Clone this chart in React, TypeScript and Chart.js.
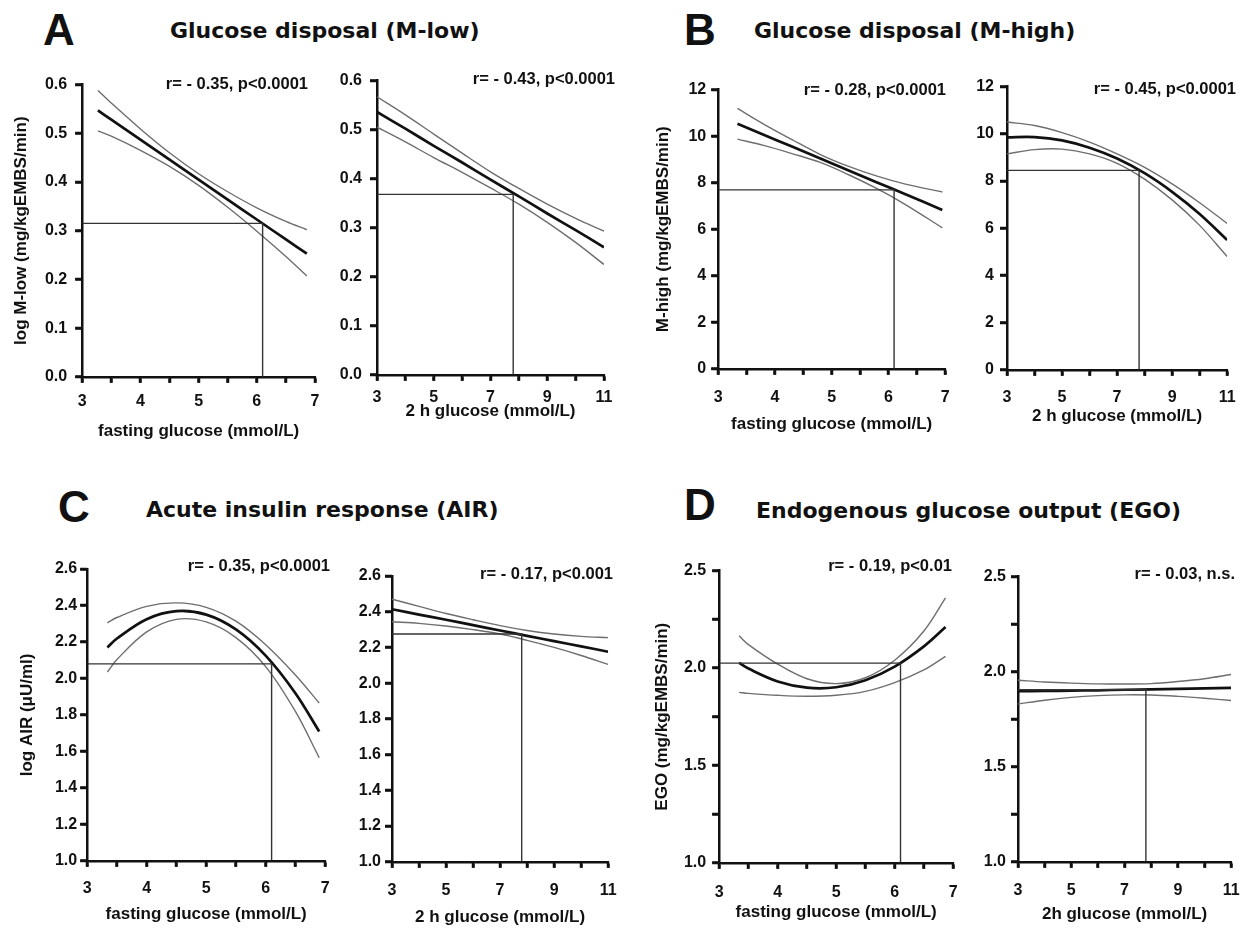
import React, { useEffect, useRef } from "react";
import { Chart, registerables } from "chart.js";

Chart.register(...registerables);

// ---------------- DATA ----------------
// A (left): log M-low vs fasting glucose
const mLowFastX = [3.27, 3.5, 4.0, 4.5, 5.0, 5.5, 6.0, 6.5, 6.86];
const mLowFastFit = [0.547, 0.528, 0.487, 0.446, 0.405, 0.364, 0.323, 0.282, 0.253];
const mLowFastUpper = [0.588, 0.562, 0.509, 0.46, 0.417, 0.38, 0.347, 0.319, 0.302];
const mLowFastLower = [0.505, 0.494, 0.465, 0.432, 0.393, 0.348, 0.299, 0.247, 0.207];
const mLowFastCut = [6.1, 0.315];

// A (right): log M-low vs 2 h glucose
const mLow2hX = [3, 4, 5, 6, 7, 8, 9, 10, 11];
const mLow2hFit = [0.536, 0.502, 0.467, 0.433, 0.398, 0.364, 0.329, 0.295, 0.26];
const mLow2hUpper = [0.567, 0.53, 0.491, 0.452, 0.414, 0.38, 0.348, 0.319, 0.293];
const mLow2hLower = [0.505, 0.475, 0.443, 0.413, 0.381, 0.348, 0.311, 0.27, 0.225];
const mLow2hCut = [7.8, 0.368];

// B (left): M-high vs fasting glucose
const mHighFastX = [3.34, 3.8, 4.3, 4.8, 5.3, 5.8, 6.3, 6.95];
const mHighFastFit = [10.53, 10.06, 9.55, 9.04, 8.52, 8.01, 7.5, 6.83];
const mHighFastUpper = [11.19, 10.52, 9.85, 9.21, 8.7, 8.28, 7.94, 7.6];
const mHighFastLower = [9.87, 9.6, 9.25, 8.87, 8.34, 7.74, 7.06, 6.06];
const mHighFastCut = [6.1, 7.69];

// B (right): M-high vs 2 h glucose
const mHigh2hX = [3, 4, 5, 6, 7, 8, 9, 10, 11];
const mHigh2hFit = [9.85, 9.86, 9.72, 9.41, 8.95, 8.33, 7.54, 6.6, 5.5];
const mHigh2hUpper = [10.5, 10.35, 10.05, 9.65, 9.15, 8.58, 7.88, 7.08, 6.2];
const mHigh2hLower = [9.15, 9.33, 9.35, 9.15, 8.75, 8.08, 7.2, 6.12, 4.8];
const mHigh2hCut = [7.8, 8.45];

// C (left): log AIR vs fasting glucose
const airFastX = [3.34, 3.5, 4.0, 4.5, 5.0, 5.5, 6.0, 6.5, 6.9];
const airFastFit = [2.17, 2.219, 2.325, 2.369, 2.35, 2.269, 2.125, 1.919, 1.709];
const airFastUpper = [2.305, 2.334, 2.395, 2.414, 2.39, 2.314, 2.185, 2.019, 1.865];
const airFastLower = [2.035, 2.104, 2.255, 2.324, 2.31, 2.224, 2.065, 1.819, 1.565];
const airFastCut = [6.1, 2.08];

// C (right): log AIR vs 2 h glucose
const air2hX = [3, 4, 5, 6, 7, 8, 9, 10, 11];
const air2hFit = [2.414, 2.384, 2.355, 2.325, 2.295, 2.265, 2.235, 2.206, 2.176];
const air2hUpper = [2.47, 2.43, 2.39, 2.355, 2.322, 2.295, 2.275, 2.262, 2.255];
const air2hLower = [2.344, 2.335, 2.32, 2.3, 2.275, 2.24, 2.2, 2.155, 2.105];
const air2hCut = [7.8, 2.275];

// D (left): EGO vs fasting glucose
const egoFastX = [3.34, 3.5, 4.0, 4.5, 5.0, 5.5, 6.0, 6.5, 6.87];
const egoFastFit = [2.026, 1.997, 1.931, 1.899, 1.901, 1.937, 2.007, 2.111, 2.21];
const egoFastUpper = [2.165, 2.12, 2.02, 1.945, 1.92, 1.95, 2.04, 2.19, 2.36];
const egoFastLower = [1.875, 1.87, 1.86, 1.855, 1.86, 1.88, 1.925, 1.99, 2.06];
const egoFastCut = [6.1, 2.025];

// D (right): EGO vs 2h glucose
const ego2hX = [3, 4, 5, 6, 7, 8, 9, 10, 11];
const ego2hFit = [1.897, 1.899, 1.9, 1.902, 1.905, 1.907, 1.91, 1.912, 1.915];
const ego2hUpper = [1.955, 1.946, 1.94, 1.936, 1.935, 1.937, 1.948, 1.963, 1.985];
const ego2hLower = [1.83, 1.85, 1.865, 1.874, 1.878, 1.877, 1.87, 1.86, 1.848];
const ego2hCut = [7.8, 1.905];

// Labels
const panelLetters = ["A", "B", "C", "D"];
const panelTitles = [
  "Glucose disposal (M-low)",
  "Glucose disposal (M-high)",
  "Acute insulin response (AIR)",
  "Endogenous glucose output (EGO)",
];
const statLabels = [
  "r= - 0.35, p<0.0001",
  "r= - 0.43, p<0.0001",
  "r= - 0.28, p<0.0001",
  "r= - 0.45, p<0.0001",
  "r= - 0.35, p<0.0001",
  "r= - 0.17, p<0.001",
  "r= - 0.19, p<0.01",
  "r= - 0.03, n.s.",
];
const xAxisTitles = [
  "fasting glucose (mmol/L)",
  "2 h glucose (mmol/L)",
  "fasting glucose (mmol/L)",
  "2 h glucose (mmol/L)",
  "fasting glucose (mmol/L)",
  "2 h glucose (mmol/L)",
  "fasting glucose (mmol/L)",
  "2h glucose (mmol/L)",
];
const yAxisTitles = [
  "log M-low (mg/kgEMBS/min)",
  "",
  "M-high (mg/kgEMBS/min)",
  "",
  "log AIR (\u03bcU/ml)",
  "",
  "EGO (mg/kgEMBS/min)",
  "",
];

// ---------------- STYLE / LAYOUT ----------------
const SANS = '"Liberation Sans", Arial, Helvetica, sans-serif';
const WIDE = '"DejaVu Sans", "Liberation Sans", sans-serif';
const TICK_FS = 16;
const AXT_FS = 17;
const TL_X = 6;
const TL_Y = 7;
const INK = "#111";

type Layout = {
  plot: number[]; // l, t, r, b
  yTitleX?: number;
  xTitleY: number;
  xLabelY: number;
  yGap: number;
};

type Series = {
  xs: number[];
  fit: number[];
  upper: number[];
  lower: number[];
  cut: number[];
  xMin: number;
  xMax: number;
  xStep: number;
  xMode: "int" | "odd";
  yMin: number;
  yMax: number;
  yStep: number;
  yMode: "f1" | "int" | "half";
};

const series: Series[] = [
  { xs: mLowFastX, fit: mLowFastFit, upper: mLowFastUpper, lower: mLowFastLower, cut: mLowFastCut, xMin: 3, xMax: 7, xStep: 0.5, xMode: "int", yMin: 0, yMax: 0.6, yStep: 0.1, yMode: "f1" },
  { xs: mLow2hX, fit: mLow2hFit, upper: mLow2hUpper, lower: mLow2hLower, cut: mLow2hCut, xMin: 3, xMax: 11, xStep: 1, xMode: "odd", yMin: 0, yMax: 0.6, yStep: 0.1, yMode: "f1" },
  { xs: mHighFastX, fit: mHighFastFit, upper: mHighFastUpper, lower: mHighFastLower, cut: mHighFastCut, xMin: 3, xMax: 7, xStep: 0.5, xMode: "int", yMin: 0, yMax: 12, yStep: 2, yMode: "int" },
  { xs: mHigh2hX, fit: mHigh2hFit, upper: mHigh2hUpper, lower: mHigh2hLower, cut: mHigh2hCut, xMin: 3, xMax: 11, xStep: 1, xMode: "odd", yMin: 0, yMax: 12, yStep: 2, yMode: "int" },
  { xs: airFastX, fit: airFastFit, upper: airFastUpper, lower: airFastLower, cut: airFastCut, xMin: 3, xMax: 7, xStep: 0.5, xMode: "int", yMin: 1, yMax: 2.6, yStep: 0.2, yMode: "f1" },
  { xs: air2hX, fit: air2hFit, upper: air2hUpper, lower: air2hLower, cut: air2hCut, xMin: 3, xMax: 11, xStep: 1, xMode: "odd", yMin: 1, yMax: 2.6, yStep: 0.2, yMode: "f1" },
  { xs: egoFastX, fit: egoFastFit, upper: egoFastUpper, lower: egoFastLower, cut: egoFastCut, xMin: 3, xMax: 7, xStep: 0.5, xMode: "int", yMin: 1, yMax: 2.5, yStep: 0.25, yMode: "half" },
  { xs: ego2hX, fit: ego2hFit, upper: ego2hUpper, lower: ego2hLower, cut: ego2hCut, xMin: 3, xMax: 11, xStep: 1, xMode: "odd", yMin: 1, yMax: 2.5, yStep: 0.25, yMode: "half" },
];

const layouts: Layout[] = [
  { plot: [82, 81, 315, 377], yTitleX: 21, xTitleY: 432, xLabelY: 402, yGap: 15 },
  { plot: [377, 77, 604, 375], xTitleY: 412, xLabelY: 398, yGap: 15 },
  { plot: [718, 89, 947, 369], yTitleX: 663, xTitleY: 425, xLabelY: 398, yGap: 12 },
  { plot: [1007, 85, 1232, 370], xTitleY: 417, xLabelY: 398, yGap: 13 },
  { plot: [87, 569, 326, 861], yTitleX: 27, xTitleY: 915, xLabelY: 889, yGap: 10 },
  { plot: [392, 576, 614, 862], xTitleY: 918, xLabelY: 891, yGap: 11 },
  { plot: [719, 569, 956, 863], yTitleX: 662, xTitleY: 913, xLabelY: 893, yGap: 13 },
  { plot: [1018, 576, 1237, 862], xTitleY: 915, xLabelY: 891, yGap: 12 },
];

const letterPos = [
  [43, 30],
  [684, 30],
  [58, 507],
  [684, 505],
];
const titlePos = [
  [170, 31],
  [754, 31],
  [146, 510],
  [756, 511],
];
const statPos = [
  [308, 83],
  [615, 78],
  [946, 89],
  [1236, 88],
  [330, 565],
  [613, 573],
  [952, 565],
  [1235, 573],
];

function fmtY(mode: string, v: number): string {
  if (mode === "int") return String(Math.round(v));
  if (mode === "half") {
    const d = v * 2 - Math.round(v * 2);
    return Math.abs(d) < 1e-6 ? v.toFixed(1) : "";
  }
  return v.toFixed(1);
}
function fmtX(mode: string, v: number): string {
  const r = Math.round(v);
  if (Math.abs(v - r) > 1e-6) return "";
  if (mode === "odd") return r % 2 === 1 ? String(r) : "";
  return String(r);
}

// draws outward tick marks for every scale tick (major and minor)
const outerTicks = {
  id: "outerTicks",
  afterDraw(chart: any) {
    const ctx = chart.ctx;
    const xs = chart.scales.x;
    const ys = chart.scales.y;
    ctx.save();
    ctx.strokeStyle = INK;
    ctx.lineWidth = 2.5;
    ctx.lineCap = "butt";
    ctx.beginPath();
    xs.ticks.forEach((t: any) => {
      const px = Math.round(xs.getPixelForValue(t.value));
      ctx.moveTo(px, xs.top);
      ctx.lineTo(px, xs.top + TL_X);
    });
    ys.ticks.forEach((t: any) => {
      const py = Math.round(ys.getPixelForValue(t.value));
      ctx.moveTo(ys.right, py);
      ctx.lineTo(ys.right - TL_Y, py);
    });
    ctx.stroke();
    ctx.restore();
  },
};

function Panel({ s, lay, xTitle, yTitle }: { s: Series; lay: Layout; xTitle: string; yTitle: string }) {
  const ref = useRef<HTMLCanvasElement | null>(null);
  const [l, t, r, b] = lay.plot;
  const axLH = AXT_FS * 1.2;
  const tickLH = TICK_FS * 1.2;
  const CL = lay.yTitleX !== undefined ? lay.yTitleX - axLH / 2 : l - 50;
  const yW = l - CL;
  const padTop = 14;
  const CT = t - padTop;
  const padRight = 16;
  const CW = r + padRight - CL;
  const xH = lay.xTitleY + axLH / 2 - b;
  const padBottom = 4;
  const CH = b + xH + padBottom - CT;
  const xPad = lay.xLabelY - b - TL_X - tickLH / 2;
  const yPad = lay.yGap - TL_Y;

  useEffect(() => {
    if (!ref.current) return;
    const pts = (xs: number[], ys: number[]) => xs.map((x, i) => ({ x, y: ys[i] }));
    const tickFont = { family: SANS, size: TICK_FS, weight: "bold" as const };
    const titleFont = { family: SANS, size: AXT_FS, weight: "bold" as const };
    const curve = (data: any, color: string, width: number) => ({
      data,
      borderColor: color,
      borderWidth: width,
      showLine: true,
      pointRadius: 0,
      tension: 0.35,
    });
    const chart = new Chart(ref.current, {
      type: "scatter",
      data: {
        datasets: [
          {
            data: [
              { x: s.xMin, y: s.cut[1] },
              { x: s.cut[0], y: s.cut[1] },
              { x: s.cut[0], y: s.yMin },
            ],
            borderColor: "#333",
            borderWidth: 1.4,
            showLine: true,
            pointRadius: 0,
            tension: 0,
          },
          curve(pts(s.xs, s.upper), "#6e6e6e", 1.4),
          curve(pts(s.xs, s.lower), "#6e6e6e", 1.4),
          curve(pts(s.xs, s.fit), INK, 2.7),
        ],
      },
      plugins: [outerTicks],
      options: {
        animation: false,
        responsive: false,
        devicePixelRatio: 1,
        events: [],
        layout: { padding: { left: 0, top: padTop, right: padRight, bottom: padBottom } },
        plugins: {
          legend: { display: false },
          tooltip: { enabled: false },
          title: { display: false },
        },
        scales: {
          x: {
            type: "linear",
            position: "bottom",
            min: s.xMin,
            max: s.xMax,
            ticks: {
              stepSize: s.xStep,
              autoSkip: false,
              maxRotation: 0,
              minRotation: 0,
              padding: xPad,
              color: INK,
              font: tickFont,
              callback: (v: any) => fmtX(s.xMode, Number(v)),
            },
            grid: {
              display: true,
              drawOnChartArea: false,
              drawTicks: true,
              tickLength: TL_X,
              tickWidth: 2.5,
              tickColor: INK,
            },
            border: { display: true, color: INK, width: 2.5 },
            title: { display: true, text: xTitle, color: INK, font: titleFont, padding: 0 },
            afterFit: (scale: any) => {
              scale.height = xH;
            },
          },
          y: {
            type: "linear",
            position: "left",
            min: s.yMin,
            max: s.yMax,
            ticks: {
              stepSize: s.yStep,
              autoSkip: false,
              padding: yPad,
              color: INK,
              font: tickFont,
              callback: (v: any) => fmtY(s.yMode, Number(v)),
            },
            grid: {
              display: true,
              drawOnChartArea: false,
              drawTicks: true,
              tickLength: TL_Y,
              tickWidth: 2.5,
              tickColor: INK,
            },
            border: { display: true, color: INK, width: 2.5 },
            title: { display: !!yTitle, text: yTitle, color: INK, font: titleFont, padding: 0 },
            afterFit: (scale: any) => {
              scale.width = yW;
            },
          },
        },
      } as any,
    });
    return () => chart.destroy();
  }, []);

  return (
    <canvas
      ref={ref}
      width={CW}
      height={CH}
      style={{ position: "absolute", left: CL, top: CT, width: CW, height: CH }}
    />
  );
}

function Txt({ x, y, fs, family, text, align }: { x: number; y: number; fs: number; family: string; text: string; align?: "right" }) {
  return (
    <div
      style={{
        position: "absolute",
        left: x,
        top: y - fs * 0.49,
        fontFamily: family,
        fontWeight: "bold",
        fontSize: fs,
        lineHeight: 1,
        whiteSpace: "nowrap",
        color: INK,
        transform: align === "right" ? "translateX(-100%)" : undefined,
      }}
    >
      {text}
    </div>
  );
}

export default function App() {
  return (
    <div
      style={{
        position: "absolute",
        left: 0,
        top: 0,
        width: 1248,
        height: 928,
        background: "#fff",
        overflow: "hidden",
      }}
    >
      {series.map((s, i) => (
        <Panel key={i} s={s} lay={layouts[i]} xTitle={xAxisTitles[i]} yTitle={yAxisTitles[i]} />
      ))}
      {panelLetters.map((t, i) => (
        <Txt key={"l" + i} x={letterPos[i][0]} y={letterPos[i][1]} fs={44} family={SANS} text={t} />
      ))}
      {panelTitles.map((t, i) => (
        <Txt key={"t" + i} x={titlePos[i][0]} y={titlePos[i][1]} fs={22} family={WIDE} text={t} />
      ))}
      {statLabels.map((t, i) => (
        <Txt key={"s" + i} x={statPos[i][0]} y={statPos[i][1]} fs={16.5} family={SANS} text={t} align="right" />
      ))}
    </div>
  );
}
